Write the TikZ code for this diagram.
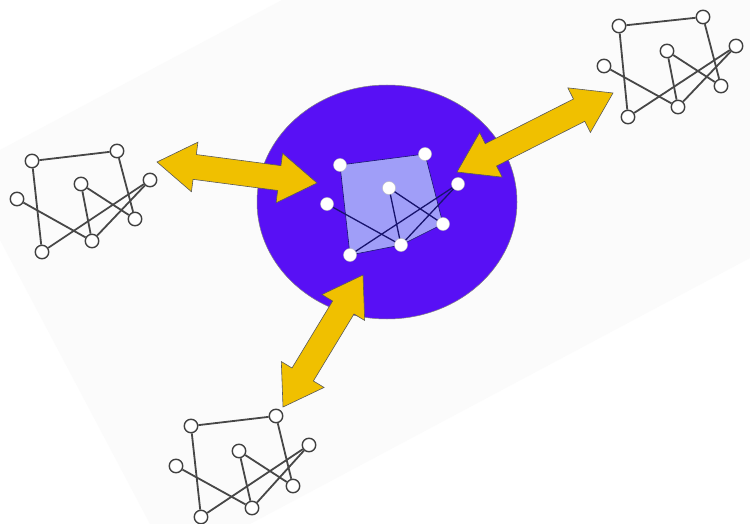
\documentclass[tikz,border=0pt]{standalone}
\usetikzlibrary{calc}
\definecolor{arrowyellow}{RGB}{240,192,0}
\definecolor{discblue}{RGB}{88,16,245}
\definecolor{polyfill}{RGB}{160,158,248}
\definecolor{navy}{RGB}{24,20,110}
\definecolor{bgshade}{RGB}{251,251,251}
\tikzset{
  snode/.style={circle, draw=black!75, line width=1.4pt, fill=white, inner sep=0pt, minimum size=13.5pt},
  sedge/.style={draw=black!72, line width=1.8pt},
  cnode/.style={circle, draw=black!25, line width=0.4pt, fill=white, inner sep=0pt, minimum size=13pt},
  cedge/.style={draw=navy, line width=1.3pt},
  fatarr/.style={fill=arrowyellow, draw=black!65, line width=0.6pt, line join=miter},
  disc/.style={fill=discblue, draw=black!50, line width=0.5pt},
  cpoly/.style={fill=polyfill, draw=navy, line width=0.6pt}
}
\newcommand\fatarrow[2]{%
  \coordinate (#1-h) at ($(#1)!38pt!(#2)$);
  \coordinate (#2-h) at ($(#2)!38pt!(#1)$);
  \draw[fatarr] (#1)
    -- ($(#1-h)!25pt!90:(#2)$)
    -- ($(#1-h)!12.5pt!90:(#2)$)
    -- ($(#2-h)!12.5pt!-90:(#1)$)
    -- ($(#2-h)!25pt!-90:(#1)$)
    -- (#2)
    -- ($(#2-h)!25pt!90:(#1)$)
    -- ($(#2-h)!12.5pt!90:(#1)$)
    -- ($(#1-h)!12.5pt!-90:(#2)$)
    -- ($(#1-h)!25pt!-90:(#2)$)
    -- cycle;}
\newcommand\satedges[1]{%
  \draw[sedge] (#1a) -- (#1b);
  \draw[sedge] (#1a) -- (#1h);
  \draw[sedge] (#1b) -- (#1f);
  \draw[sedge] (#1c) -- (#1f);
  \draw[sedge] (#1c) -- (#1g);
  \draw[sedge] (#1e) -- (#1g);
  \draw[sedge] (#1h) -- (#1d);
  \draw[sedge] (#1g) -- (#1d);}
\begin{document}
\begin{tikzpicture}[x=1pt,y=-1pt]
\useasboundingbox (0,0) rectangle (750,524);
\fill[white] (0,0) rectangle (750,524);
\fill[bgshade] (0,150) -- (282,0) -- (750,0) -- (750,258) -- (250,524) -- (150,524) -- (0,240) -- cycle;

% left graph
\node[snode] (La) at (32,161) {};
\node[snode] (Lb) at (117,151) {};
\node[snode] (Lc) at (81,184) {};
\node[snode] (Ld) at (150,180) {};
\node[snode] (Le) at (17,199) {};
\node[snode] (Lf) at (135,219) {};
\node[snode] (Lg) at (92,241) {};
\node[snode] (Lh) at (42,252) {};
\satedges{L}
% right graph
\node[snode] (Ra) at (619,26) {};
\node[snode] (Rb) at (703,17) {};
\node[snode] (Rc) at (667,51) {};
\node[snode] (Rd) at (736,46) {};
\node[snode] (Re) at (604,66) {};
\node[snode] (Rf) at (721,86) {};
\node[snode] (Rg) at (678,107) {};
\node[snode] (Rh) at (628,117) {};
\satedges{R}
% bottom graph
\node[snode] (Ba) at (191,426) {};
\node[snode] (Bb) at (276,416) {};
\node[snode] (Bc) at (239,451) {};
\node[snode] (Bd) at (309,445) {};
\node[snode] (Be) at (176,466) {};
\node[snode] (Bf) at (293,486) {};
\node[snode] (Bg) at (252,508) {};
\node[snode] (Bh) at (201,517) {};
\satedges{B}

% central disc
\draw[disc] (387,202) ellipse [x radius=130pt, y radius=117pt];

% central graph
\coordinate (Ca) at (340,165);
\coordinate (Cb) at (425,154);
\coordinate (Cc) at (389,188);
\coordinate (Cd) at (458,184);
\coordinate (Ce) at (327,204);
\coordinate (Cf) at (443,224);
\coordinate (Cg) at (401,245);
\coordinate (Ch) at (350,255);
\draw[cpoly] (Ca) -- (Cb) -- (Cf) -- (Cg) -- (Ch) -- cycle;
\draw[cedge] (Cc) -- (Cf);
\draw[cedge] (Cc) -- (Cg);
\draw[cedge] (Ce) -- (Cg);
\draw[cedge] (Ch) -- (Cd);
\draw[cedge] (Cg) -- (Cd);
\foreach \n in {a,b,c,d,e,f,g,h} \node[cnode] (Cn\n) at (C\n) {};

% arrows
\coordinate (la1) at (157,162);
\coordinate (la2) at (317,183);
\coordinate (ra1) at (613,93);
\coordinate (ra2) at (457,172);
\coordinate (ba1) at (363,275);
\coordinate (ba2) at (283,407);
\fatarrow{la1}{la2}
\fatarrow{ra1}{ra2}
\fatarrow{ba1}{ba2}
\end{tikzpicture}
\end{document}
